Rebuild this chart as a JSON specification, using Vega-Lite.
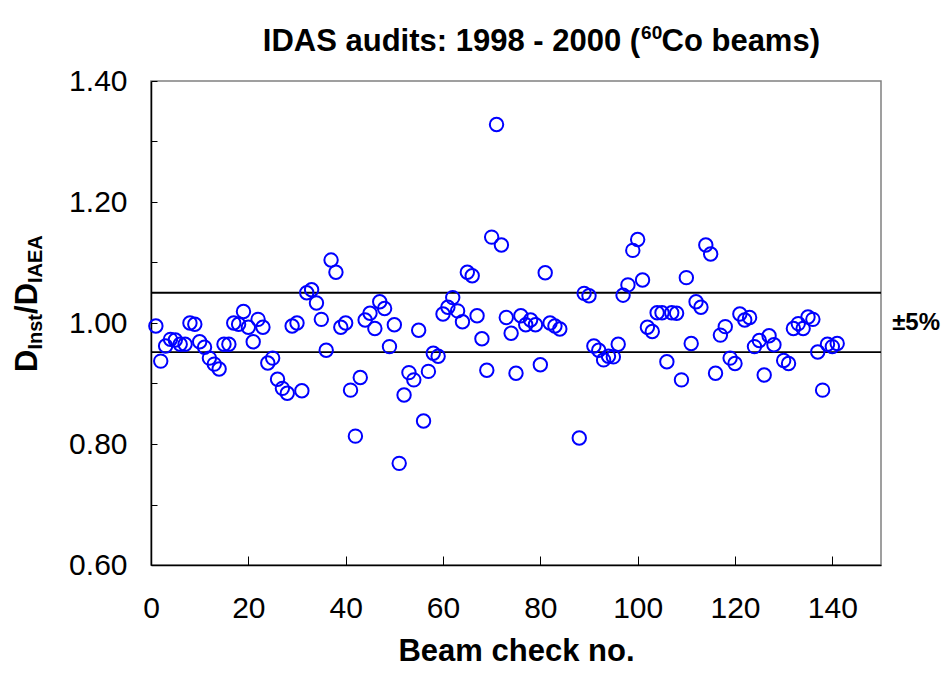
{
  "$schema": "https://vega.github.io/schema/vega-lite/v6.json",
  "width": 730,
  "height": 484,
  "autosize": {"type": "none"},
  "padding": {"left": 151, "top": 81, "right": 63, "bottom": 112},
  "background": "white",
  "config": {
    "font": "Liberation Sans",
    "view": {"stroke": "#808080", "strokeWidth": 1.5}
  },
  "layer": [
    {
      "data": {"values": [{"limit": 1.05}, {"limit": 0.952}]},
      "mark": {"type": "rule", "color": "black", "strokeWidth": 1.8},
      "encoding": {
        "y": {"field": "limit", "type": "quantitative", "scale": {"domain": [0.6, 1.4], "nice": false, "zero": false}}
      }
    },
    {
      "data": {"values": [
        {"n":1,"v":0.995},{"n":2,"v":0.937},{"n":3,"v":0.962},{"n":4,"v":0.973},{"n":5,"v":0.972},
        {"n":6,"v":0.965},{"n":7,"v":0.965},{"n":8,"v":1.0},{"n":9,"v":0.998},{"n":10,"v":0.969},
        {"n":11,"v":0.96},{"n":12,"v":0.942},{"n":13,"v":0.932},{"n":14,"v":0.924},{"n":15,"v":0.965},
        {"n":16,"v":0.965},{"n":17,"v":1.0},{"n":18,"v":0.998},{"n":19,"v":1.019},{"n":20,"v":0.993},
        {"n":21,"v":0.969},{"n":22,"v":1.006},{"n":23,"v":0.993},{"n":24,"v":0.934},{"n":25,"v":0.942},
        {"n":26,"v":0.907},{"n":27,"v":0.892},{"n":28,"v":0.884},{"n":29,"v":0.995},{"n":30,"v":1.0},
        {"n":31,"v":0.888},{"n":32,"v":1.05},{"n":33,"v":1.055},{"n":34,"v":1.033},{"n":35,"v":1.006},
        {"n":36,"v":0.955},{"n":37,"v":1.104},{"n":38,"v":1.084},{"n":39,"v":0.993},{"n":40,"v":1.0},
        {"n":41,"v":0.889},{"n":42,"v":0.813},{"n":43,"v":0.91},{"n":44,"v":1.005},{"n":45,"v":1.016},
        {"n":46,"v":0.991},{"n":47,"v":1.035},{"n":48,"v":1.024},{"n":49,"v":0.961},{"n":50,"v":0.997},
        {"n":51,"v":0.768},{"n":52,"v":0.881},{"n":53,"v":0.918},{"n":54,"v":0.906},{"n":55,"v":0.988},
        {"n":56,"v":0.838},{"n":57,"v":0.92},{"n":58,"v":0.95},{"n":59,"v":0.945},{"n":60,"v":1.015},
        {"n":61,"v":1.026},{"n":62,"v":1.042},{"n":63,"v":1.02},{"n":64,"v":1.002},{"n":65,"v":1.084},
        {"n":66,"v":1.078},{"n":67,"v":1.012},{"n":68,"v":0.974},{"n":69,"v":0.922},{"n":70,"v":1.142},
        {"n":71,"v":1.328},{"n":72,"v":1.129},{"n":73,"v":1.009},{"n":74,"v":0.983},{"n":75,"v":0.917},
        {"n":76,"v":1.012},{"n":77,"v":0.997},{"n":78,"v":1.005},{"n":79,"v":0.997},{"n":80,"v":0.931},
        {"n":81,"v":1.083},{"n":82,"v":1.0},{"n":83,"v":0.995},{"n":84,"v":0.99},
        {"n":88,"v":0.81},{"n":89,"v":1.049},{"n":90,"v":1.045},
        {"n":91,"v":0.962},{"n":92,"v":0.955},{"n":93,"v":0.939},{"n":94,"v":0.945},{"n":95,"v":0.944},
        {"n":96,"v":0.965},{"n":97,"v":1.046},{"n":98,"v":1.063},{"n":99,"v":1.12},{"n":100,"v":1.138},
        {"n":101,"v":1.071},{"n":102,"v":0.993},{"n":103,"v":0.986},{"n":104,"v":1.017},{"n":105,"v":1.017},
        {"n":106,"v":0.936},{"n":107,"v":1.017},{"n":108,"v":1.016},{"n":109,"v":0.906},{"n":110,"v":1.075},
        {"n":111,"v":0.966},{"n":112,"v":1.035},{"n":113,"v":1.026},{"n":114,"v":1.129},{"n":115,"v":1.114},
        {"n":116,"v":0.917},{"n":117,"v":0.98},{"n":118,"v":0.994},{"n":119,"v":0.942},{"n":120,"v":0.933},
        {"n":121,"v":1.015},{"n":122,"v":1.005},{"n":123,"v":1.009},{"n":124,"v":0.961},{"n":125,"v":0.971},
        {"n":126,"v":0.914},{"n":127,"v":0.979},{"n":128,"v":0.964},
        {"n":130,"v":0.938},{"n":131,"v":0.933},{"n":132,"v":0.991},{"n":133,"v":0.999},{"n":134,"v":0.991},
        {"n":135,"v":1.01},{"n":136,"v":1.006},{"n":137,"v":0.952},{"n":138,"v":0.889},{"n":139,"v":0.965},
        {"n":140,"v":0.961},{"n":141,"v":0.966}
      ]},
      "mark": {"type": "point", "shape": "circle", "filled": false, "color": "#0000FF", "strokeWidth": 2, "size": 180, "opacity": 1},
      "encoding": {
        "x": {
          "field": "n", "type": "quantitative",
          "scale": {"domain": [0, 150], "nice": false, "zero": false},
          "axis": {
            "values": [0, 20, 40, 60, 80, 100, 120, 140],
            "title": "Beam check no.",
            "titleFont": "Liberation Sans",
            "titleFontSize": 31,
            "titleFontWeight": "bold",
            "titleColor": "black",
            "titlePadding": 13,
            "labelFont": "Liberation Sans",
            "labelFontSize": 30,
            "labelColor": "black",
            "labelPadding": 37,
            "labelFlush": false,
            "labelOverlap": false,
            "tickSize": -9,
            "tickColor": "black",
            "tickWidth": 1,
            "domainColor": "black",
            "domainWidth": 1.5,
            "grid": false
          }
        },
        "y": {
          "field": "v", "type": "quantitative",
          "scale": {"domain": [0.6, 1.4], "nice": false, "zero": false},
          "axis": {
            "values": [0.6, 0.7, 0.8, 0.9, 1.0, 1.1, 1.2, 1.3, 1.4],
            "labelExpr": "round(datum.value * 10) % 2 == 0 ? format(datum.value, '.2f') : ''",
            "title": null,
            "labelFont": "Liberation Sans",
            "labelFontSize": 30,
            "labelColor": "black",
            "labelPadding": 30,
            "labelFlush": false,
            "labelOverlap": false,
            "tickSize": -6,
            "tickColor": "black",
            "tickWidth": 1,
            "domainColor": "black",
            "domainWidth": 1.5,
            "grid": false
          }
        }
      }
    },
    {
      "data": {"values": [{}]},
      "mark": {"type": "text", "text": "IDAS audits: 1998 - 2000 (", "font": "Liberation Sans", "fontSize": 31, "fontWeight": "bold", "color": "black", "align": "right", "baseline": "alphabetic", "clip": false},
      "encoding": {"x": {"datum": 100.5}, "y": {"datum": 1.4496}}
    },
    {
      "data": {"values": [{}]},
      "mark": {"type": "text", "text": "60", "font": "Liberation Sans", "fontSize": 19, "fontWeight": "bold", "color": "black", "align": "left", "baseline": "alphabetic", "clip": false},
      "encoding": {"x": {"datum": 100.7}, "y": {"datum": 1.469}}
    },
    {
      "data": {"values": [{}]},
      "mark": {"type": "text", "text": "Co beams)", "font": "Liberation Sans", "fontSize": 31, "fontWeight": "bold", "color": "black", "align": "left", "baseline": "alphabetic", "clip": false},
      "encoding": {"x": {"datum": 104.9}, "y": {"datum": 1.4496}}
    },
    {
      "data": {"values": [{}]},
      "mark": {"type": "text", "text": "±5%", "font": "Liberation Sans", "fontSize": 24, "fontWeight": "bold", "color": "black", "align": "left", "baseline": "middle"},
      "encoding": {"x": {"datum": 152.3}, "y": {"datum": 1.0}}
    },
    {
      "data": {"values": [{}]},
      "mark": {"type": "text", "text": "D", "font": "Liberation Sans", "fontSize": 31, "fontWeight": "bold", "color": "black", "align": "left", "baseline": "alphabetic", "angle": 270},
      "encoding": {"x": {"datum": -23.4}, "y": {"datum": 0.919}}
    },
    {
      "data": {"values": [{}]},
      "mark": {"type": "text", "text": "Inst", "font": "Liberation Sans", "fontSize": 20, "fontWeight": "bold", "color": "black", "align": "left", "baseline": "alphabetic", "angle": 270},
      "encoding": {"x": {"datum": -22.4}, "y": {"datum": 0.956}}
    },
    {
      "data": {"values": [{}]},
      "mark": {"type": "text", "text": "/D", "font": "Liberation Sans", "fontSize": 31, "fontWeight": "bold", "color": "black", "align": "left", "baseline": "alphabetic", "angle": 270},
      "encoding": {"x": {"datum": -23.4}, "y": {"datum": 1.0149}}
    },
    {
      "data": {"values": [{}]},
      "mark": {"type": "text", "text": "IAEA", "font": "Liberation Sans", "fontSize": 20, "fontWeight": "bold", "color": "black", "align": "left", "baseline": "alphabetic", "angle": 270},
      "encoding": {"x": {"datum": -22.4}, "y": {"datum": 1.066}}
    }
  ]
}
